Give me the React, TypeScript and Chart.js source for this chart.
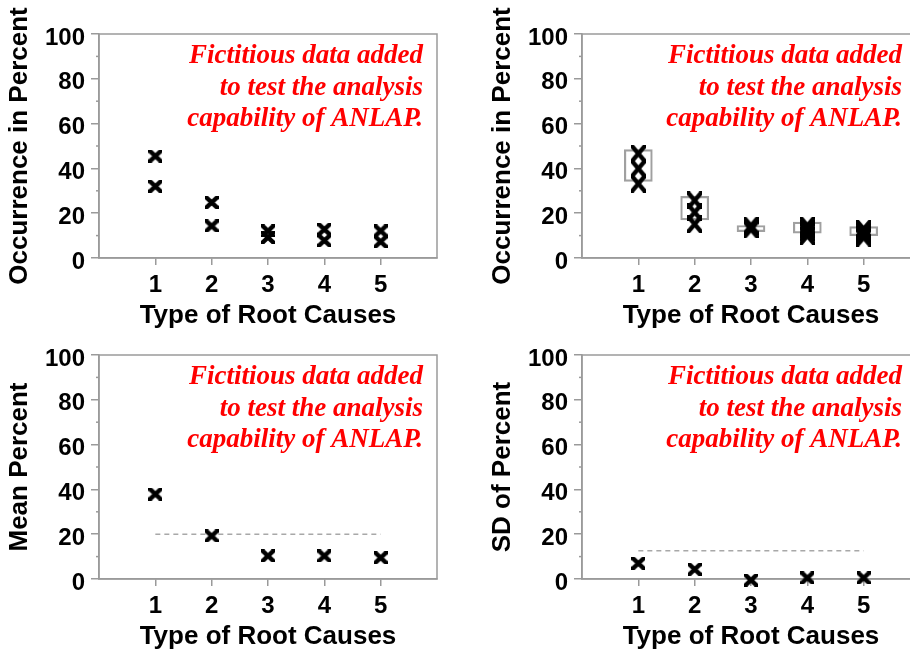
import React, { useEffect, useRef } from 'react';
import { Chart, registerables } from 'chart.js';

Chart.register(...registerables);

// ---------- data ----------
const categories = [1, 2, 3, 4, 5];
const xTickLabels = ['1', '2', '3', '4', '5'];
const yMajorTicks = [0, 20, 40, 60, 80, 100];
const yMinorTicks = [10, 30, 50, 70, 90];
const noteLines = ['Fictitious data added', 'to test the analysis', 'capability of ANLAP.'];
const xTitle = 'Type of Root Causes';

// Panel A: occurrence (two observations per cause)
const occurrenceHigh = [45.5, 24.8, 12.1, 12.8, 12.1];
const occurrenceLow = [32.0, 14.3, 9.2, 7.8, 7.3];

// Panel B: occurrence with fictitious data + boxes
const cause1Values = [46.6, 39.9, 33.2];
const cause2Values = [25.7, 20.4, 15.1];
const cause3Values = [14.4, 12.8];
const cause4Values = [14.5, 13.0, 11.5, 9.9];
const cause5Values = [13.0, 11.7, 10.4, 9.1];
const boxLow = [34.2, 17.0, 11.8, 11.1, 10.0];
const boxHigh = [48.4, 27.5, 14.5, 16.0, 14.0];

// Panel C: mean percent
const meanPercent = [37.9, 19.2, 10.3, 10.3, 9.5];
const meanReference = 20;

// Panel D: SD of percent
const sdPercent = [7.0, 4.3, -0.5, 0.5, 0.5];
const sdReference = 12.6;

// ---------- styling ----------
const GRAY = '#9a9a9a';
const SANS = '"Liberation Sans", Arial, Helvetica, sans-serif';
const SERIF = '"Liberation Serif", "Times New Roman", serif';

function makeXMarker(w: number, h: number, lw: number) {
  const c = document.createElement('canvas');
  c.width = w;
  c.height = h;
  const g = c.getContext('2d')!;
  g.strokeStyle = '#000';
  g.lineWidth = lw;
  g.lineCap = 'butt';
  g.beginPath();
  g.moveTo(-1, -1);
  g.lineTo(w + 1, h + 1);
  g.moveTo(w + 1, -1);
  g.lineTo(-1, h + 1);
  g.stroke();
  return c;
}

const decorPlugin = {
  id: 'decor',
  beforeDatasetsDraw(chart: any, _args: any, opts: any) {
    const { ctx, chartArea: a, scales } = chart;
    ctx.save();
    ctx.strokeStyle = GRAY;
    ctx.lineWidth = 1.5;
    ctx.strokeRect(a.left, a.top, a.right - a.left, a.bottom - a.top);
    yMinorTicks.forEach((v) => {
      const py = scales.y.getPixelForValue(v);
      ctx.beginPath();
      ctx.moveTo(a.left - 3, py);
      ctx.lineTo(a.left, py);
      ctx.stroke();
    });
    ctx.fillStyle = '#ff0000';
    ctx.font = 'italic bold 27px ' + SERIF;
    ctx.textAlign = 'right';
    ctx.textBaseline = 'alphabetic';
    noteLines.forEach((t, i) => {
      ctx.fillText(t, a.left + opts.noteRight, a.top + 29 + i * 31.5);
    });
    ctx.restore();
  },
};

function markerDataset(points: { x: number; y: number }[], marker: HTMLCanvasElement) {
  return {
    type: 'scatter',
    data: points,
    showLine: false,
    pointStyle: marker,
    pointRadius: 8,
    pointHoverRadius: 8,
    borderColor: '#000',
    backgroundColor: '#000',
    clip: false,
    order: 1,
  };
}

function refLineDataset(value: number) {
  return {
    type: 'line',
    data: [
      { x: categories[0], y: value },
      { x: categories[categories.length - 1], y: value },
    ],
    borderColor: '#a8a8a8',
    borderWidth: 1.5,
    borderDash: [5, 4],
    pointRadius: 0,
    fill: false,
    order: 3,
  };
}

function buildOptions(yTitle: string, noteRight: number) {
  return {
    animation: false,
    responsive: false,
    maintainAspectRatio: false,
    events: [],
    layout: { padding: { top: 34, right: 18, bottom: 9, left: 0 } },
    plugins: {
      legend: { display: false },
      tooltip: { enabled: false },
      decor: { noteRight },
    },
    scales: {
      x: {
        type: 'linear',
        min: 0,
        max: 6,
        offset: false,
        afterBuildTicks: (s: any) => {
          s.ticks = categories.map((v) => ({ value: v }));
        },
        afterFit: (s: any) => {
          s.height = 73;
        },
        grid: {
          offset: false,
          drawOnChartArea: false,
          drawTicks: true,
          tickLength: 7,
          color: GRAY,
          lineWidth: 1.5,
        },
        border: { display: true, color: GRAY, width: 1.5 },
        ticks: {
          color: '#000',
          font: { family: SANS, size: 24, weight: 'bold' },
          padding: 6,
          maxRotation: 0,
          autoSkip: false,
          callback: (v: number) => {
            const i = categories.indexOf(v);
            return i >= 0 ? xTickLabels[i] : '';
          },
        },
        title: {
          display: true,
          text: xTitle,
          color: '#000',
          font: { family: SANS, size: 26, weight: 'bold' },
          padding: 0,
        },
      },
      y: {
        type: 'linear',
        min: 0,
        max: 100,
        afterBuildTicks: (s: any) => {
          s.ticks = yMajorTicks.map((v) => ({ value: v }));
        },
        afterFit: (s: any) => {
          s.width = 99;
        },
        grid: {
          drawOnChartArea: false,
          drawTicks: true,
          tickLength: 8,
          color: GRAY,
          lineWidth: 1.5,
        },
        border: { display: true, color: GRAY, width: 1.5 },
        ticks: {
          color: '#000',
          font: { family: SANS, size: 24, weight: 'bold' },
          padding: 6,
          labelOffset: 4,
        },
        title: {
          display: true,
          text: yTitle,
          color: '#000',
          font: { family: SANS, size: 26, weight: 'bold' },
          padding: { top: 4, bottom: 0 },
        },
      },
    },
  };
}

function panelA() {
  const pts = categories.flatMap((c, i) => [
    { x: c, y: occurrenceHigh[i] },
    { x: c, y: occurrenceLow[i] },
  ]);
  return {
    type: 'scatter',
    data: { datasets: [markerDataset(pts, makeXMarker(14, 13, 4.4))] },
    options: buildOptions('Occurrence in Percent', 324),
    plugins: [decorPlugin],
  };
}

function panelB() {
  const groups = [cause1Values, cause2Values, cause3Values, cause4Values, cause5Values];
  const pts = categories.flatMap((c, i) => groups[i].map((v) => ({ x: c, y: v })));
  const boxes = {
    type: 'bar',
    data: categories.map((c, i) => ({ x: c, y: [boxLow[i], boxHigh[i]] })),
    barThickness: 28,
    backgroundColor: 'rgba(0,0,0,0)',
    borderColor: '#a0a0a0',
    borderWidth: 1.5,
    borderSkipped: false,
    order: 2,
  };
  return {
    type: 'scatter',
    data: { datasets: [markerDataset(pts, makeXMarker(15, 18, 4.4)), boxes] },
    options: buildOptions('Occurrence in Percent', 320),
    plugins: [decorPlugin],
  };
}

function panelC() {
  const pts = categories.map((c, i) => ({ x: c, y: meanPercent[i] }));
  return {
    type: 'scatter',
    data: { datasets: [markerDataset(pts, makeXMarker(14, 13, 4.4)), refLineDataset(meanReference)] },
    options: buildOptions('Mean Percent', 324),
    plugins: [decorPlugin],
  };
}

function panelD() {
  const pts = categories.map((c, i) => ({ x: c, y: sdPercent[i] }));
  return {
    type: 'scatter',
    data: { datasets: [markerDataset(pts, makeXMarker(14, 13, 4.4)), refLineDataset(sdReference)] },
    options: buildOptions('SD of Percent', 320),
    plugins: [decorPlugin],
  };
}

function Panel({ left, top, make }: { left: number; top: number; make: () => any }) {
  const ref = useRef<HTMLCanvasElement>(null);
  useEffect(() => {
    if (!ref.current) return;
    const chart = new Chart(ref.current, make());
    return () => chart.destroy();
  }, [make]);
  return (
    <canvas
      ref={ref}
      width={455}
      height={340}
      style={{ position: 'absolute', left, top, width: 455, height: 340 }}
    />
  );
}

export default function App() {
  return (
    <div
      style={{
        position: 'fixed',
        left: 0,
        top: 0,
        width: 910,
        height: 649,
        overflow: 'hidden',
        background: '#fff',
      }}
    >
      <Panel left={0} top={0} make={panelA} />
      <Panel left={483} top={0} make={panelB} />
      <Panel left={0} top={321} make={panelC} />
      <Panel left={483} top={321} make={panelD} />
    </div>
  );
}
